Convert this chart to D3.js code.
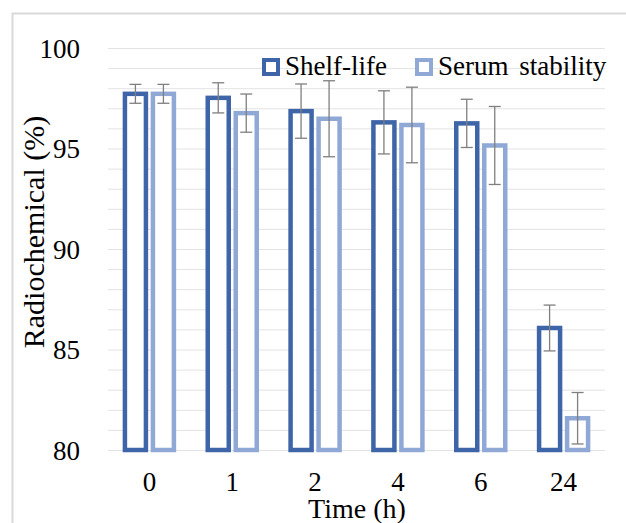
<!DOCTYPE html>
<html>
<head>
<meta charset="utf-8">
<script src="https://cdn.jsdelivr.net/npm/d3@7"></script>
<style>
  body { margin: 0; background: #fff; }
  svg text { font-family: "Liberation Serif", "Times New Roman", serif !important; fill: #000; }
</style>
</head>
<body>
<svg id="chart" width="626" height="523"></svg>
<script>
// data
var times = ["0", "1", "2", "4", "6", "24"];
var seriesNames = ["Shelf-life", "Serum stability"];
var shelfLife = [97.72, 97.52, 96.86, 96.30, 96.25, 86.07];
var shelfErr = [0.47, 0.75, 1.35, 1.57, 1.2, 1.14];
var serum = [97.72, 96.76, 96.48, 96.17, 95.15, 81.58];
var serumErr = [0.47, 0.95, 1.89, 1.88, 1.94, 1.28];
var yTicks = [80, 85, 90, 95, 100];
var colors = ["#3F65A9", "#90A8D6"];

var serif = "Liberation Serif, Times New Roman, serif";
var svg = d3.select("#chart");
var margin = {top: 48, left: 108, right: 21, bottom: 73};
var width = 626 - margin.left - margin.right,
    height = 523 - margin.top - margin.bottom;

// chart frame (only left and top visible in the crop)
svg.append("rect")
  .attr("x", 12.5).attr("y", 13.5)
  .attr("width", 640).attr("height", 540)
  .attr("fill", "none").attr("stroke", "#d9d9d9").attr("stroke-width", 2);

var g = svg.append("g").attr("transform", "translate(" + margin.left + "," + margin.top + ")");

var x = d3.scaleBand().domain(times).range([0, width]);
var y = d3.scaleLinear().domain([80, 100]).range([height, 0]);

// gridlines, every unit
g.append("g").selectAll("line")
  .data(d3.range(80, 101))
  .enter().append("line")
  .attr("x1", 0).attr("x2", width)
  .attr("y1", function(d) { return y(d) + 0.5; })
  .attr("y2", function(d) { return y(d) + 0.5; })
  .attr("stroke", "#e3e3e3").attr("stroke-width", 1);

// y axis labels
var yAxis = d3.axisLeft(y).tickValues(yTicks).tickSize(0).tickPadding(28);
g.append("g").attr("class", "y axis").call(yAxis)
  .attr("font-family", serif)
  .call(function(a) { a.select(".domain").remove(); })
  .selectAll("text").style("font-size", "27px").attr("dy", "0.34em");

// x axis labels
var xAxis = d3.axisBottom(x).tickSize(0).tickPadding(22);
g.append("g").attr("class", "x axis").attr("transform", "translate(0," + height + ")")
  .attr("font-family", serif)
  .call(xAxis)
  .call(function(a) { a.select(".domain").remove(); })
  .selectAll("text").style("font-size", "27px");

// bars
var sw = 4.5, barW = 21, off = 14;
var series = [
  {vals: shelfLife, err: shelfErr, color: colors[0], dx: -off},
  {vals: serum, err: serumErr, color: colors[1], dx: off}
];

series.forEach(function(s) {
  var cx = function(d, i) { return x(times[i]) + x.bandwidth() / 2 + s.dx; };
  g.append("g").selectAll("rect")
    .data(s.vals)
    .enter().append("rect")
    .attr("x", function(d, i) { return cx(d, i) - barW / 2; })
    .attr("y", function(d) { return y(d); })
    .attr("width", barW)
    .attr("height", function(d) { return height - y(d); })
    .attr("fill", "#fff")
    .attr("stroke", s.color).attr("stroke-width", sw);

  var eb = g.append("g").selectAll("g")
    .data(s.vals)
    .enter().append("g")
    .attr("stroke", "#7f7f7f").attr("stroke-width", 1.3);
  eb.append("line")
    .attr("x1", cx).attr("x2", cx)
    .attr("y1", function(d, i) { return y(d + s.err[i]); })
    .attr("y2", function(d, i) { return y(d - s.err[i]); });
  [1, -1].forEach(function(sign) {
    eb.append("line")
      .attr("x1", function(d, i) { return cx(d, i) - 6; })
      .attr("x2", function(d, i) { return cx(d, i) + 6; })
      .attr("y1", function(d, i) { return y(d + sign * s.err[i]); })
      .attr("y2", function(d, i) { return y(d + sign * s.err[i]); });
  });
});

// legend
var legendX = [264, 417];
var legend = svg.append("g").selectAll("g")
  .data(seriesNames)
  .enter().append("g")
  .attr("transform", function(d, i) { return "translate(" + legendX[i] + ",60)"; });
legend.append("rect")
  .attr("width", 14).attr("height", 14)
  .attr("fill", "#fff")
  .attr("stroke", function(d, i) { return colors[i]; })
  .attr("stroke-width", 4);
legend.append("text")
  .attr("x", 21).attr("y", 15)
  .attr("font-family", serif)
  .style("font-size", "27px")
  .attr("word-spacing", "4px")
  .text(function(d) { return d; });

// axis titles
svg.append("text")
  .attr("x", 357).attr("y", 518)
  .attr("text-anchor", "middle")
  .attr("font-family", serif)
  .style("font-size", "28px")
  .text("Time (h)");

svg.append("text")
  .attr("transform", "translate(44,232) rotate(-90)")
  .attr("text-anchor", "middle")
  .attr("font-family", serif)
  .style("font-size", "30px")
  .text("Radiochemical (%)");
</script>
</body>
</html>
